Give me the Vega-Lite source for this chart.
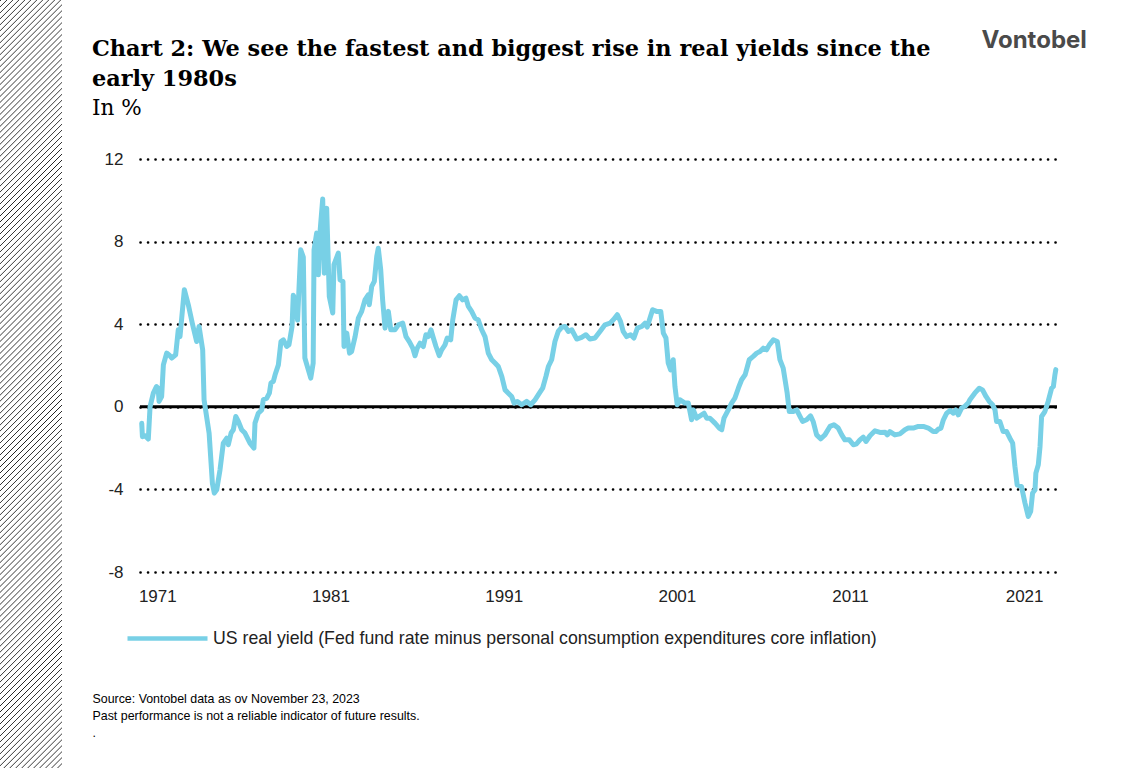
{
  "$schema": "https://vega.github.io/schema/vega-lite/v6.json",
  "width": 917,
  "height": 413,
  "autosize": {"type": "none"},
  "padding": {"left": 140, "top": 159, "right": 65, "bottom": 196},
  "background": "white",
  "config": {"view": {"stroke": null}},
  "title": {
    "text": ["Chart 2: We see the fastest and biggest rise in real yields since the", "early 1980s"],
    "subtitle": "In %",
    "anchor": "start",
    "frame": "group",
    "dx": -48,
    "offset": -120,
    "font": "DejaVu Serif",
    "fontSize": 22.4,
    "fontWeight": "bold",
    "color": "#000000",
    "lineHeight": 30,
    "subtitleFont": "DejaVu Serif",
    "subtitleFontSize": 21.5,
    "subtitleColor": "#000000",
    "subtitlePadding": 8
  },
  "datasets": {
    "yield": [
      {"year": 1971.00, "value": -0.80}, {"year": 1971.04, "value": -1.45}, {"year": 1971.20, "value": -1.40},
      {"year": 1971.38, "value": -1.56}, {"year": 1971.48, "value": 0.00}, {"year": 1971.67, "value": 0.66},
      {"year": 1971.85, "value": 0.98}, {"year": 1971.95, "value": 0.90}, {"year": 1972.00, "value": 0.26},
      {"year": 1972.15, "value": 0.50}, {"year": 1972.25, "value": 2.03}, {"year": 1972.44, "value": 2.60},
      {"year": 1972.60, "value": 2.50}, {"year": 1972.73, "value": 2.36}, {"year": 1972.96, "value": 2.52},
      {"year": 1973.11, "value": 3.73}, {"year": 1973.21, "value": 3.40}, {"year": 1973.46, "value": 5.67},
      {"year": 1973.69, "value": 4.94}, {"year": 1973.92, "value": 4.05}, {"year": 1974.17, "value": 3.16},
      {"year": 1974.31, "value": 3.89}, {"year": 1974.52, "value": 2.76}, {"year": 1974.60, "value": 0.34},
      {"year": 1974.89, "value": -1.27}, {"year": 1975.08, "value": -3.70}, {"year": 1975.19, "value": -4.18},
      {"year": 1975.33, "value": -4.02}, {"year": 1975.52, "value": -3.05}, {"year": 1975.71, "value": -1.76},
      {"year": 1975.91, "value": -1.52}, {"year": 1976.00, "value": -1.84}, {"year": 1976.16, "value": -1.27},
      {"year": 1976.29, "value": -1.11}, {"year": 1976.43, "value": -0.47}, {"year": 1976.58, "value": -0.71},
      {"year": 1976.77, "value": -1.11}, {"year": 1976.96, "value": -1.27}, {"year": 1977.25, "value": -1.76},
      {"year": 1977.48, "value": -2.00}, {"year": 1977.54, "value": -0.79}, {"year": 1977.73, "value": -0.31},
      {"year": 1977.93, "value": -0.15}, {"year": 1978.02, "value": 0.34}, {"year": 1978.22, "value": 0.42},
      {"year": 1978.37, "value": 0.66}, {"year": 1978.46, "value": 1.15}, {"year": 1978.60, "value": 1.23},
      {"year": 1978.70, "value": 1.55}, {"year": 1978.89, "value": 2.03}, {"year": 1979.04, "value": 3.16},
      {"year": 1979.18, "value": 3.24}, {"year": 1979.37, "value": 2.92}, {"year": 1979.50, "value": 3.00},
      {"year": 1979.60, "value": 3.49}, {"year": 1979.68, "value": 3.89}, {"year": 1979.75, "value": 5.40},
      {"year": 1979.85, "value": 5.20}, {"year": 1980.00, "value": 4.20}, {"year": 1980.18, "value": 7.60},
      {"year": 1980.33, "value": 7.25}, {"year": 1980.42, "value": 2.36}, {"year": 1980.62, "value": 1.79},
      {"year": 1980.76, "value": 1.39}, {"year": 1980.90, "value": 2.12}, {"year": 1980.95, "value": 7.60},
      {"year": 1981.10, "value": 8.41}, {"year": 1981.20, "value": 6.39}, {"year": 1981.29, "value": 8.41},
      {"year": 1981.45, "value": 10.06}, {"year": 1981.54, "value": 6.47}, {"year": 1981.68, "value": 9.62},
      {"year": 1981.83, "value": 5.34}, {"year": 1982.03, "value": 4.54}, {"year": 1982.10, "value": 6.88},
      {"year": 1982.35, "value": 7.44}, {"year": 1982.45, "value": 6.15}, {"year": 1982.62, "value": 6.07},
      {"year": 1982.68, "value": 2.92}, {"year": 1982.84, "value": 3.57}, {"year": 1983.00, "value": 2.60},
      {"year": 1983.12, "value": 2.68}, {"year": 1983.32, "value": 3.40}, {"year": 1983.51, "value": 4.30},
      {"year": 1983.70, "value": 4.62}, {"year": 1983.89, "value": 5.18}, {"year": 1984.08, "value": 5.42},
      {"year": 1984.14, "value": 4.94}, {"year": 1984.28, "value": 5.83}, {"year": 1984.43, "value": 6.07},
      {"year": 1984.57, "value": 7.28}, {"year": 1984.66, "value": 7.68}, {"year": 1984.80, "value": 6.63},
      {"year": 1984.91, "value": 5.18}, {"year": 1985.05, "value": 3.81}, {"year": 1985.24, "value": 4.62},
      {"year": 1985.38, "value": 3.73}, {"year": 1985.62, "value": 3.73}, {"year": 1985.82, "value": 3.97},
      {"year": 1986.07, "value": 4.05}, {"year": 1986.26, "value": 3.40}, {"year": 1986.45, "value": 3.16},
      {"year": 1986.65, "value": 2.84}, {"year": 1986.78, "value": 2.47}, {"year": 1986.91, "value": 2.84},
      {"year": 1987.07, "value": 3.08}, {"year": 1987.26, "value": 2.92}, {"year": 1987.41, "value": 3.49},
      {"year": 1987.55, "value": 3.40}, {"year": 1987.70, "value": 3.73}, {"year": 1987.84, "value": 3.33},
      {"year": 1987.99, "value": 2.92}, {"year": 1988.18, "value": 2.48}, {"year": 1988.32, "value": 2.76},
      {"year": 1988.51, "value": 3.00}, {"year": 1988.64, "value": 3.33}, {"year": 1988.84, "value": 3.24},
      {"year": 1988.96, "value": 4.21}, {"year": 1989.15, "value": 5.18}, {"year": 1989.34, "value": 5.38},
      {"year": 1989.53, "value": 5.18}, {"year": 1989.72, "value": 5.26}, {"year": 1989.86, "value": 4.86},
      {"year": 1990.05, "value": 4.62}, {"year": 1990.24, "value": 4.30}, {"year": 1990.43, "value": 4.21},
      {"year": 1990.63, "value": 3.73}, {"year": 1990.82, "value": 3.40}, {"year": 1991.01, "value": 2.60},
      {"year": 1991.21, "value": 2.28}, {"year": 1991.40, "value": 2.12}, {"year": 1991.59, "value": 1.95},
      {"year": 1991.79, "value": 1.47}, {"year": 1991.98, "value": 0.82}, {"year": 1992.17, "value": 0.66},
      {"year": 1992.36, "value": 0.50}, {"year": 1992.50, "value": 0.18}, {"year": 1992.69, "value": 0.26},
      {"year": 1992.94, "value": 0.10}, {"year": 1993.23, "value": 0.26}, {"year": 1993.46, "value": 0.10},
      {"year": 1993.71, "value": 0.34}, {"year": 1993.96, "value": 0.66}, {"year": 1994.15, "value": 0.90},
      {"year": 1994.34, "value": 1.47}, {"year": 1994.48, "value": 1.95}, {"year": 1994.67, "value": 2.28},
      {"year": 1994.86, "value": 3.16}, {"year": 1995.05, "value": 3.65}, {"year": 1995.25, "value": 3.85},
      {"year": 1995.44, "value": 3.89}, {"year": 1995.63, "value": 3.65}, {"year": 1995.83, "value": 3.73},
      {"year": 1996.12, "value": 3.28}, {"year": 1996.40, "value": 3.36}, {"year": 1996.65, "value": 3.49},
      {"year": 1996.88, "value": 3.28}, {"year": 1997.17, "value": 3.33}, {"year": 1997.46, "value": 3.65},
      {"year": 1997.75, "value": 3.97}, {"year": 1998.04, "value": 4.05}, {"year": 1998.27, "value": 4.25},
      {"year": 1998.46, "value": 4.46}, {"year": 1998.65, "value": 4.13}, {"year": 1998.80, "value": 3.65},
      {"year": 1999.00, "value": 3.40}, {"year": 1999.23, "value": 3.49}, {"year": 1999.42, "value": 3.33},
      {"year": 1999.62, "value": 3.81}, {"year": 1999.87, "value": 3.89}, {"year": 2000.06, "value": 4.05},
      {"year": 2000.19, "value": 3.86}, {"year": 2000.35, "value": 4.30}, {"year": 2000.50, "value": 4.70},
      {"year": 2000.73, "value": 4.62}, {"year": 2000.97, "value": 4.62}, {"year": 2001.12, "value": 3.57},
      {"year": 2001.27, "value": 3.33}, {"year": 2001.40, "value": 2.12}, {"year": 2001.54, "value": 1.79},
      {"year": 2001.69, "value": 2.28}, {"year": 2001.79, "value": 0.98}, {"year": 2001.92, "value": 0.10},
      {"year": 2002.08, "value": 0.34}, {"year": 2002.37, "value": 0.18}, {"year": 2002.56, "value": 0.18},
      {"year": 2002.75, "value": -0.63}, {"year": 2002.85, "value": -0.15}, {"year": 2003.04, "value": -0.55},
      {"year": 2003.33, "value": -0.39}, {"year": 2003.47, "value": -0.31}, {"year": 2003.62, "value": -0.55},
      {"year": 2003.81, "value": -0.55}, {"year": 2004.10, "value": -0.79}, {"year": 2004.35, "value": -1.03},
      {"year": 2004.49, "value": -1.11}, {"year": 2004.62, "value": -0.55}, {"year": 2004.87, "value": -0.15},
      {"year": 2005.06, "value": 0.18}, {"year": 2005.25, "value": 0.42}, {"year": 2005.45, "value": 0.90},
      {"year": 2005.64, "value": 1.31}, {"year": 2005.84, "value": 1.55}, {"year": 2006.08, "value": 2.28},
      {"year": 2006.31, "value": 2.44}, {"year": 2006.51, "value": 2.60}, {"year": 2006.70, "value": 2.68},
      {"year": 2006.89, "value": 2.84}, {"year": 2007.08, "value": 2.76}, {"year": 2007.24, "value": 3.00},
      {"year": 2007.47, "value": 3.24}, {"year": 2007.70, "value": 3.16}, {"year": 2007.85, "value": 2.28},
      {"year": 2008.04, "value": 1.87}, {"year": 2008.27, "value": 0.66}, {"year": 2008.39, "value": -0.23},
      {"year": 2008.62, "value": -0.23}, {"year": 2008.82, "value": -0.15}, {"year": 2009.00, "value": -0.45},
      {"year": 2009.16, "value": -0.71}, {"year": 2009.39, "value": -0.63}, {"year": 2009.62, "value": -0.44},
      {"year": 2009.77, "value": -0.71}, {"year": 2009.97, "value": -1.36}, {"year": 2010.20, "value": -1.55},
      {"year": 2010.45, "value": -1.36}, {"year": 2010.74, "value": -0.95}, {"year": 2010.97, "value": -0.87},
      {"year": 2011.22, "value": -1.03}, {"year": 2011.42, "value": -1.36}, {"year": 2011.60, "value": -1.60},
      {"year": 2011.86, "value": -1.60}, {"year": 2012.09, "value": -1.84}, {"year": 2012.28, "value": -1.79},
      {"year": 2012.47, "value": -1.60}, {"year": 2012.66, "value": -1.47}, {"year": 2012.82, "value": -1.68},
      {"year": 2013.05, "value": -1.40}, {"year": 2013.34, "value": -1.16}, {"year": 2013.63, "value": -1.24},
      {"year": 2013.92, "value": -1.23}, {"year": 2014.05, "value": -1.36}, {"year": 2014.20, "value": -1.20},
      {"year": 2014.49, "value": -1.36}, {"year": 2014.78, "value": -1.31}, {"year": 2015.07, "value": -1.11},
      {"year": 2015.26, "value": -1.03}, {"year": 2015.55, "value": -1.03}, {"year": 2015.84, "value": -0.95},
      {"year": 2016.13, "value": -0.95}, {"year": 2016.42, "value": -1.03}, {"year": 2016.70, "value": -1.20},
      {"year": 2016.85, "value": -1.20}, {"year": 2017.00, "value": -1.08}, {"year": 2017.15, "value": -1.03},
      {"year": 2017.29, "value": -0.63}, {"year": 2017.48, "value": -0.31}, {"year": 2017.68, "value": -0.18},
      {"year": 2017.87, "value": -0.31}, {"year": 2018.01, "value": -0.15}, {"year": 2018.15, "value": -0.39},
      {"year": 2018.34, "value": -0.06}, {"year": 2018.53, "value": 0.02}, {"year": 2018.72, "value": 0.18},
      {"year": 2018.82, "value": 0.34}, {"year": 2019.10, "value": 0.66}, {"year": 2019.36, "value": 0.90},
      {"year": 2019.55, "value": 0.82}, {"year": 2019.75, "value": 0.50}, {"year": 2019.94, "value": 0.26},
      {"year": 2020.13, "value": 0.10}, {"year": 2020.27, "value": -0.15}, {"year": 2020.36, "value": -0.71},
      {"year": 2020.55, "value": -0.71}, {"year": 2020.74, "value": -1.20}, {"year": 2020.94, "value": -1.20},
      {"year": 2021.13, "value": -1.52}, {"year": 2021.29, "value": -1.76}, {"year": 2021.42, "value": -2.89},
      {"year": 2021.55, "value": -3.78}, {"year": 2021.80, "value": -3.86}, {"year": 2022.00, "value": -4.66},
      {"year": 2022.19, "value": -5.31}, {"year": 2022.33, "value": -5.07}, {"year": 2022.44, "value": -4.18},
      {"year": 2022.58, "value": -4.02}, {"year": 2022.63, "value": -3.21}, {"year": 2022.77, "value": -2.81},
      {"year": 2022.87, "value": -1.92}, {"year": 2022.96, "value": -0.47}, {"year": 2023.15, "value": -0.23},
      {"year": 2023.34, "value": 0.26}, {"year": 2023.54, "value": 0.90}, {"year": 2023.64, "value": 0.98},
      {"year": 2023.73, "value": 1.55}, {"year": 2023.78, "value": 1.80}
    ]
  },
  "layer": [
    {
      "data": {"values": [{}]},
      "mark": {
        "type": "rect",
        "strokeWidth": 0,
        "fill": {
          "gradient": "linear",
          "x1": 0, "y1": 0, "x2": 0.0867, "y2": 1.0737,
          "stops": [
{"offset":0,"color":"#fff"},{"offset":0.0011,"color":"#222"},{"offset":0.0022,"color":"#fff"},
{"offset":0.0072,"color":"#fff"},{"offset":0.0083,"color":"#222"},{"offset":0.0094,"color":"#fff"},
{"offset":0.0144,"color":"#fff"},{"offset":0.0155,"color":"#222"},{"offset":0.0166,"color":"#fff"},
{"offset":0.0216,"color":"#fff"},{"offset":0.0227,"color":"#222"},{"offset":0.0238,"color":"#fff"},
{"offset":0.0288,"color":"#fff"},{"offset":0.0299,"color":"#222"},{"offset":0.031,"color":"#fff"},
{"offset":0.036,"color":"#fff"},{"offset":0.0371,"color":"#222"},{"offset":0.0382,"color":"#fff"},
{"offset":0.0432,"color":"#fff"},{"offset":0.0443,"color":"#222"},{"offset":0.0454,"color":"#fff"},
{"offset":0.0504,"color":"#fff"},{"offset":0.0515,"color":"#222"},{"offset":0.0526,"color":"#fff"},
{"offset":0.0576,"color":"#fff"},{"offset":0.0587,"color":"#222"},{"offset":0.0598,"color":"#fff"},
{"offset":0.0648,"color":"#fff"},{"offset":0.0659,"color":"#222"},{"offset":0.067,"color":"#fff"},
{"offset":0.072,"color":"#fff"},{"offset":0.0731,"color":"#222"},{"offset":0.0742,"color":"#fff"},
{"offset":0.0792,"color":"#fff"},{"offset":0.0803,"color":"#222"},{"offset":0.0814,"color":"#fff"},
{"offset":0.0864,"color":"#fff"},{"offset":0.0875,"color":"#222"},{"offset":0.0886,"color":"#fff"},
{"offset":0.0936,"color":"#fff"},{"offset":0.0947,"color":"#222"},{"offset":0.0958,"color":"#fff"},
{"offset":0.1008,"color":"#fff"},{"offset":0.1019,"color":"#222"},{"offset":0.103,"color":"#fff"},
{"offset":0.108,"color":"#fff"},{"offset":0.1091,"color":"#222"},{"offset":0.1102,"color":"#fff"},
{"offset":0.1152,"color":"#fff"},{"offset":0.1163,"color":"#222"},{"offset":0.1174,"color":"#fff"},
{"offset":0.1224,"color":"#fff"},{"offset":0.1235,"color":"#222"},{"offset":0.1246,"color":"#fff"},
{"offset":0.1296,"color":"#fff"},{"offset":0.1307,"color":"#222"},{"offset":0.1318,"color":"#fff"},
{"offset":0.1368,"color":"#fff"},{"offset":0.1379,"color":"#222"},{"offset":0.139,"color":"#fff"},
{"offset":0.144,"color":"#fff"},{"offset":0.1451,"color":"#222"},{"offset":0.1462,"color":"#fff"},
{"offset":0.1512,"color":"#fff"},{"offset":0.1523,"color":"#222"},{"offset":0.1534,"color":"#fff"},
{"offset":0.1584,"color":"#fff"},{"offset":0.1595,"color":"#222"},{"offset":0.1606,"color":"#fff"},
{"offset":0.1656,"color":"#fff"},{"offset":0.1667,"color":"#222"},{"offset":0.1678,"color":"#fff"},
{"offset":0.1728,"color":"#fff"},{"offset":0.1739,"color":"#222"},{"offset":0.175,"color":"#fff"},
{"offset":0.18,"color":"#fff"},{"offset":0.1811,"color":"#222"},{"offset":0.1822,"color":"#fff"},
{"offset":0.1872,"color":"#fff"},{"offset":0.1883,"color":"#222"},{"offset":0.1894,"color":"#fff"},
{"offset":0.1944,"color":"#fff"},{"offset":0.1955,"color":"#222"},{"offset":0.1966,"color":"#fff"},
{"offset":0.2016,"color":"#fff"},{"offset":0.2027,"color":"#222"},{"offset":0.2038,"color":"#fff"},
{"offset":0.2088,"color":"#fff"},{"offset":0.2099,"color":"#222"},{"offset":0.211,"color":"#fff"},
{"offset":0.216,"color":"#fff"},{"offset":0.2171,"color":"#222"},{"offset":0.2182,"color":"#fff"},
{"offset":0.2232,"color":"#fff"},{"offset":0.2243,"color":"#222"},{"offset":0.2254,"color":"#fff"},
{"offset":0.2304,"color":"#fff"},{"offset":0.2315,"color":"#222"},{"offset":0.2326,"color":"#fff"},
{"offset":0.2376,"color":"#fff"},{"offset":0.2387,"color":"#222"},{"offset":0.2398,"color":"#fff"},
{"offset":0.2448,"color":"#fff"},{"offset":0.2459,"color":"#222"},{"offset":0.247,"color":"#fff"},
{"offset":0.252,"color":"#fff"},{"offset":0.2531,"color":"#222"},{"offset":0.2542,"color":"#fff"},
{"offset":0.2592,"color":"#fff"},{"offset":0.2603,"color":"#222"},{"offset":0.2614,"color":"#fff"},
{"offset":0.2664,"color":"#fff"},{"offset":0.2675,"color":"#222"},{"offset":0.2686,"color":"#fff"},
{"offset":0.2736,"color":"#fff"},{"offset":0.2747,"color":"#222"},{"offset":0.2758,"color":"#fff"},
{"offset":0.2808,"color":"#fff"},{"offset":0.2819,"color":"#222"},{"offset":0.283,"color":"#fff"},
{"offset":0.288,"color":"#fff"},{"offset":0.2891,"color":"#222"},{"offset":0.2902,"color":"#fff"},
{"offset":0.2952,"color":"#fff"},{"offset":0.2963,"color":"#222"},{"offset":0.2974,"color":"#fff"},
{"offset":0.3024,"color":"#fff"},{"offset":0.3035,"color":"#222"},{"offset":0.3046,"color":"#fff"},
{"offset":0.3096,"color":"#fff"},{"offset":0.3107,"color":"#222"},{"offset":0.3118,"color":"#fff"},
{"offset":0.3168,"color":"#fff"},{"offset":0.3179,"color":"#222"},{"offset":0.319,"color":"#fff"},
{"offset":0.324,"color":"#fff"},{"offset":0.3251,"color":"#222"},{"offset":0.3262,"color":"#fff"},
{"offset":0.3312,"color":"#fff"},{"offset":0.3323,"color":"#222"},{"offset":0.3334,"color":"#fff"},
{"offset":0.3384,"color":"#fff"},{"offset":0.3395,"color":"#222"},{"offset":0.3406,"color":"#fff"},
{"offset":0.3456,"color":"#fff"},{"offset":0.3467,"color":"#222"},{"offset":0.3478,"color":"#fff"},
{"offset":0.3528,"color":"#fff"},{"offset":0.3539,"color":"#222"},{"offset":0.355,"color":"#fff"},
{"offset":0.36,"color":"#fff"},{"offset":0.3611,"color":"#222"},{"offset":0.3622,"color":"#fff"},
{"offset":0.3672,"color":"#fff"},{"offset":0.3683,"color":"#222"},{"offset":0.3694,"color":"#fff"},
{"offset":0.3744,"color":"#fff"},{"offset":0.3755,"color":"#222"},{"offset":0.3766,"color":"#fff"},
{"offset":0.3816,"color":"#fff"},{"offset":0.3827,"color":"#222"},{"offset":0.3838,"color":"#fff"},
{"offset":0.3888,"color":"#fff"},{"offset":0.3899,"color":"#222"},{"offset":0.391,"color":"#fff"},
{"offset":0.396,"color":"#fff"},{"offset":0.3971,"color":"#222"},{"offset":0.3982,"color":"#fff"},
{"offset":0.4032,"color":"#fff"},{"offset":0.4043,"color":"#222"},{"offset":0.4054,"color":"#fff"},
{"offset":0.4104,"color":"#fff"},{"offset":0.4115,"color":"#222"},{"offset":0.4126,"color":"#fff"},
{"offset":0.4176,"color":"#fff"},{"offset":0.4187,"color":"#222"},{"offset":0.4198,"color":"#fff"},
{"offset":0.4248,"color":"#fff"},{"offset":0.4259,"color":"#222"},{"offset":0.427,"color":"#fff"},
{"offset":0.432,"color":"#fff"},{"offset":0.4331,"color":"#222"},{"offset":0.4342,"color":"#fff"},
{"offset":0.4392,"color":"#fff"},{"offset":0.4403,"color":"#222"},{"offset":0.4414,"color":"#fff"},
{"offset":0.4464,"color":"#fff"},{"offset":0.4475,"color":"#222"},{"offset":0.4486,"color":"#fff"},
{"offset":0.4536,"color":"#fff"},{"offset":0.4547,"color":"#222"},{"offset":0.4558,"color":"#fff"},
{"offset":0.4608,"color":"#fff"},{"offset":0.4619,"color":"#222"},{"offset":0.463,"color":"#fff"},
{"offset":0.468,"color":"#fff"},{"offset":0.4691,"color":"#222"},{"offset":0.4702,"color":"#fff"},
{"offset":0.4752,"color":"#fff"},{"offset":0.4763,"color":"#222"},{"offset":0.4774,"color":"#fff"},
{"offset":0.4824,"color":"#fff"},{"offset":0.4835,"color":"#222"},{"offset":0.4846,"color":"#fff"},
{"offset":0.4896,"color":"#fff"},{"offset":0.4907,"color":"#222"},{"offset":0.4918,"color":"#fff"},
{"offset":0.4968,"color":"#fff"},{"offset":0.4979,"color":"#222"},{"offset":0.499,"color":"#fff"},
{"offset":0.504,"color":"#fff"},{"offset":0.5051,"color":"#222"},{"offset":0.5062,"color":"#fff"},
{"offset":0.5112,"color":"#fff"},{"offset":0.5123,"color":"#222"},{"offset":0.5134,"color":"#fff"},
{"offset":0.5184,"color":"#fff"},{"offset":0.5195,"color":"#222"},{"offset":0.5206,"color":"#fff"},
{"offset":0.5256,"color":"#fff"},{"offset":0.5267,"color":"#222"},{"offset":0.5278,"color":"#fff"},
{"offset":0.5328,"color":"#fff"},{"offset":0.5339,"color":"#222"},{"offset":0.535,"color":"#fff"},
{"offset":0.54,"color":"#fff"},{"offset":0.5411,"color":"#222"},{"offset":0.5422,"color":"#fff"},
{"offset":0.5472,"color":"#fff"},{"offset":0.5483,"color":"#222"},{"offset":0.5494,"color":"#fff"},
{"offset":0.5544,"color":"#fff"},{"offset":0.5555,"color":"#222"},{"offset":0.5566,"color":"#fff"},
{"offset":0.5616,"color":"#fff"},{"offset":0.5627,"color":"#222"},{"offset":0.5638,"color":"#fff"},
{"offset":0.5688,"color":"#fff"},{"offset":0.5699,"color":"#222"},{"offset":0.571,"color":"#fff"},
{"offset":0.576,"color":"#fff"},{"offset":0.5771,"color":"#222"},{"offset":0.5782,"color":"#fff"},
{"offset":0.5832,"color":"#fff"},{"offset":0.5843,"color":"#222"},{"offset":0.5854,"color":"#fff"},
{"offset":0.5904,"color":"#fff"},{"offset":0.5915,"color":"#222"},{"offset":0.5926,"color":"#fff"},
{"offset":0.5976,"color":"#fff"},{"offset":0.5987,"color":"#222"},{"offset":0.5998,"color":"#fff"},
{"offset":0.6048,"color":"#fff"},{"offset":0.6059,"color":"#222"},{"offset":0.607,"color":"#fff"},
{"offset":0.612,"color":"#fff"},{"offset":0.6131,"color":"#222"},{"offset":0.6142,"color":"#fff"},
{"offset":0.6192,"color":"#fff"},{"offset":0.6203,"color":"#222"},{"offset":0.6214,"color":"#fff"},
{"offset":0.6264,"color":"#fff"},{"offset":0.6275,"color":"#222"},{"offset":0.6286,"color":"#fff"},
{"offset":0.6336,"color":"#fff"},{"offset":0.6347,"color":"#222"},{"offset":0.6358,"color":"#fff"},
{"offset":0.6408,"color":"#fff"},{"offset":0.6419,"color":"#222"},{"offset":0.643,"color":"#fff"},
{"offset":0.648,"color":"#fff"},{"offset":0.6491,"color":"#222"},{"offset":0.6502,"color":"#fff"},
{"offset":0.6552,"color":"#fff"},{"offset":0.6563,"color":"#222"},{"offset":0.6574,"color":"#fff"},
{"offset":0.6624,"color":"#fff"},{"offset":0.6635,"color":"#222"},{"offset":0.6646,"color":"#fff"},
{"offset":0.6696,"color":"#fff"},{"offset":0.6707,"color":"#222"},{"offset":0.6718,"color":"#fff"},
{"offset":0.6768,"color":"#fff"},{"offset":0.6779,"color":"#222"},{"offset":0.679,"color":"#fff"},
{"offset":0.684,"color":"#fff"},{"offset":0.6851,"color":"#222"},{"offset":0.6862,"color":"#fff"},
{"offset":0.6912,"color":"#fff"},{"offset":0.6923,"color":"#222"},{"offset":0.6934,"color":"#fff"},
{"offset":0.6984,"color":"#fff"},{"offset":0.6995,"color":"#222"},{"offset":0.7006,"color":"#fff"},
{"offset":0.7056,"color":"#fff"},{"offset":0.7067,"color":"#222"},{"offset":0.7078,"color":"#fff"},
{"offset":0.7128,"color":"#fff"},{"offset":0.7139,"color":"#222"},{"offset":0.715,"color":"#fff"},
{"offset":0.72,"color":"#fff"},{"offset":0.7211,"color":"#222"},{"offset":0.7222,"color":"#fff"},
{"offset":0.7272,"color":"#fff"},{"offset":0.7283,"color":"#222"},{"offset":0.7294,"color":"#fff"},
{"offset":0.7344,"color":"#fff"},{"offset":0.7355,"color":"#222"},{"offset":0.7366,"color":"#fff"},
{"offset":0.7416,"color":"#fff"},{"offset":0.7427,"color":"#222"},{"offset":0.7438,"color":"#fff"},
{"offset":0.7488,"color":"#fff"},{"offset":0.7499,"color":"#222"},{"offset":0.751,"color":"#fff"},
{"offset":0.756,"color":"#fff"},{"offset":0.7571,"color":"#222"},{"offset":0.7582,"color":"#fff"},
{"offset":0.7632,"color":"#fff"},{"offset":0.7643,"color":"#222"},{"offset":0.7654,"color":"#fff"},
{"offset":0.7704,"color":"#fff"},{"offset":0.7715,"color":"#222"},{"offset":0.7726,"color":"#fff"},
{"offset":0.7776,"color":"#fff"},{"offset":0.7787,"color":"#222"},{"offset":0.7798,"color":"#fff"},
{"offset":0.7848,"color":"#fff"},{"offset":0.7859,"color":"#222"},{"offset":0.787,"color":"#fff"},
{"offset":0.792,"color":"#fff"},{"offset":0.7931,"color":"#222"},{"offset":0.7942,"color":"#fff"},
{"offset":0.7992,"color":"#fff"},{"offset":0.8003,"color":"#222"},{"offset":0.8014,"color":"#fff"},
{"offset":0.8064,"color":"#fff"},{"offset":0.8075,"color":"#222"},{"offset":0.8086,"color":"#fff"},
{"offset":0.8136,"color":"#fff"},{"offset":0.8147,"color":"#222"},{"offset":0.8158,"color":"#fff"},
{"offset":0.8208,"color":"#fff"},{"offset":0.8219,"color":"#222"},{"offset":0.823,"color":"#fff"},
{"offset":0.828,"color":"#fff"},{"offset":0.8291,"color":"#222"},{"offset":0.8302,"color":"#fff"},
{"offset":0.8352,"color":"#fff"},{"offset":0.8363,"color":"#222"},{"offset":0.8374,"color":"#fff"},
{"offset":0.8424,"color":"#fff"},{"offset":0.8435,"color":"#222"},{"offset":0.8446,"color":"#fff"},
{"offset":0.8496,"color":"#fff"},{"offset":0.8507,"color":"#222"},{"offset":0.8518,"color":"#fff"},
{"offset":0.8568,"color":"#fff"},{"offset":0.8579,"color":"#222"},{"offset":0.859,"color":"#fff"},
{"offset":0.864,"color":"#fff"},{"offset":0.8651,"color":"#222"},{"offset":0.8662,"color":"#fff"},
{"offset":0.8712,"color":"#fff"},{"offset":0.8723,"color":"#222"},{"offset":0.8734,"color":"#fff"},
{"offset":0.8784,"color":"#fff"},{"offset":0.8795,"color":"#222"},{"offset":0.8806,"color":"#fff"},
{"offset":0.8856,"color":"#fff"},{"offset":0.8867,"color":"#222"},{"offset":0.8878,"color":"#fff"},
{"offset":0.8928,"color":"#fff"},{"offset":0.8939,"color":"#222"},{"offset":0.895,"color":"#fff"},
{"offset":0.9,"color":"#fff"},{"offset":0.9011,"color":"#222"},{"offset":0.9022,"color":"#fff"},
{"offset":0.9072,"color":"#fff"},{"offset":0.9083,"color":"#222"},{"offset":0.9094,"color":"#fff"},
{"offset":0.9144,"color":"#fff"},{"offset":0.9155,"color":"#222"},{"offset":0.9166,"color":"#fff"},
{"offset":0.9216,"color":"#fff"},{"offset":0.9227,"color":"#222"},{"offset":0.9238,"color":"#fff"},
{"offset":0.9288,"color":"#fff"},{"offset":0.9299,"color":"#222"},{"offset":0.931,"color":"#fff"},
{"offset":0.936,"color":"#fff"},{"offset":0.9371,"color":"#222"},{"offset":0.9382,"color":"#fff"},
{"offset":0.9432,"color":"#fff"},{"offset":0.9443,"color":"#222"},{"offset":0.9454,"color":"#fff"},
{"offset":0.9504,"color":"#fff"},{"offset":0.9515,"color":"#222"},{"offset":0.9526,"color":"#fff"},
{"offset":0.9576,"color":"#fff"},{"offset":0.9587,"color":"#222"},{"offset":0.9598,"color":"#fff"},
{"offset":0.9648,"color":"#fff"},{"offset":0.9659,"color":"#222"},{"offset":0.967,"color":"#fff"},
{"offset":0.972,"color":"#fff"},{"offset":0.9731,"color":"#222"},{"offset":0.9742,"color":"#fff"},
{"offset":0.9792,"color":"#fff"},{"offset":0.9803,"color":"#222"},{"offset":0.9814,"color":"#fff"},
{"offset":0.9864,"color":"#fff"},{"offset":0.9875,"color":"#222"},{"offset":0.9886,"color":"#fff"},
{"offset":0.9936,"color":"#fff"},{"offset":0.9947,"color":"#222"},{"offset":0.9958,"color":"#fff"}
          ]
        }
      },
      "encoding": {
        "x": {"datum": 1962.816, "type": "quantitative"},
        "x2": {"datum": 1966.396},
        "y": {"datum": 19.70, "type": "quantitative"},
        "y2": {"datum": -17.49}
      }
    },
    {
      "data": {"values": [{}]},
      "mark": {"type": "rule", "color": "#000000", "strokeWidth": 3},
      "encoding": {"y": {"datum": 0, "type": "quantitative"}}
    },
    {
      "data": {"name": "yield"},
      "mark": {"type": "line", "strokeWidth": 5, "strokeJoin": "round", "strokeCap": "round"},
      "encoding": {
        "x": {
          "field": "year",
          "type": "quantitative",
          "scale": {"domain": [1970.9, 2023.85], "nice": false, "zero": false},
          "axis": {
            "values": [1971.9, 1981.9, 1991.9, 2001.9, 2011.9, 2021.95],
            "labelExpr": "'' + floor(datum.value)",
            "domain": false,
            "ticks": false,
            "grid": false,
            "labelFont": "Liberation Sans",
            "labelFontSize": 17,
            "labelColor": "#222222",
            "labelPadding": 16,
            "title": ["Source: Vontobel data as ov November 23, 2023", "Past performance is not a reliable indicator of future results.", "."],
            "titleX": -48,
            "titleY": 130,
            "titleAlign": "left",
            "titleAnchor": "start",
            "titleBaseline": "alphabetic",
            "titleFont": "Liberation Sans",
            "titleFontSize": 12.4,
            "titleFontWeight": "normal",
            "titleColor": "#000000",
            "titleLineHeight": 17
          }
        },
        "y": {
          "field": "value",
          "type": "quantitative",
          "scale": {"domain": [-8, 12], "nice": false},
          "axis": {
            "values": [-8, -4, 0, 4, 8, 12],
            "labelExpr": "'' + datum.value",
            "domain": false,
            "ticks": false,
            "grid": true,
            "gridColor": "#000000",
            "gridDash": [0.1, 7.4],
            "gridWidth": 2.6,
            "gridCap": "round",
            "labelFont": "Liberation Sans",
            "labelFontSize": 17,
            "labelColor": "#222222",
            "labelPadding": 17,
            "title": "Vontobel",
            "titleAngle": 0,
            "titleX": 841,
            "titleY": -112,
            "titleAlign": "left",
            "titleBaseline": "alphabetic",
            "titleFont": "Inter",
            "titleFontSize": 24,
            "titleFontWeight": "bold",
            "titleColor": "#4a4a4a"
          }
        },
        "color": {
          "datum": "US real yield (Fed fund rate minus personal consumption expenditures core inflation)",
          "type": "nominal",
          "scale": {"range": ["#78D0E6"]},
          "legend": {
            "orient": "none",
            "legendX": -15,
            "legendY": 437,
            "title": null,
            "symbolType": "stroke",
            "symbolSize": 6400,
            "symbolStrokeWidth": 4.5,
            "labelFont": "Liberation Sans",
            "labelFontSize": 17.7,
            "labelColor": "#222222",
            "labelOffset": 3,
            "labelLimit": 1000,
            "padding": 0
          }
        }
      }
    }
  ]
}
